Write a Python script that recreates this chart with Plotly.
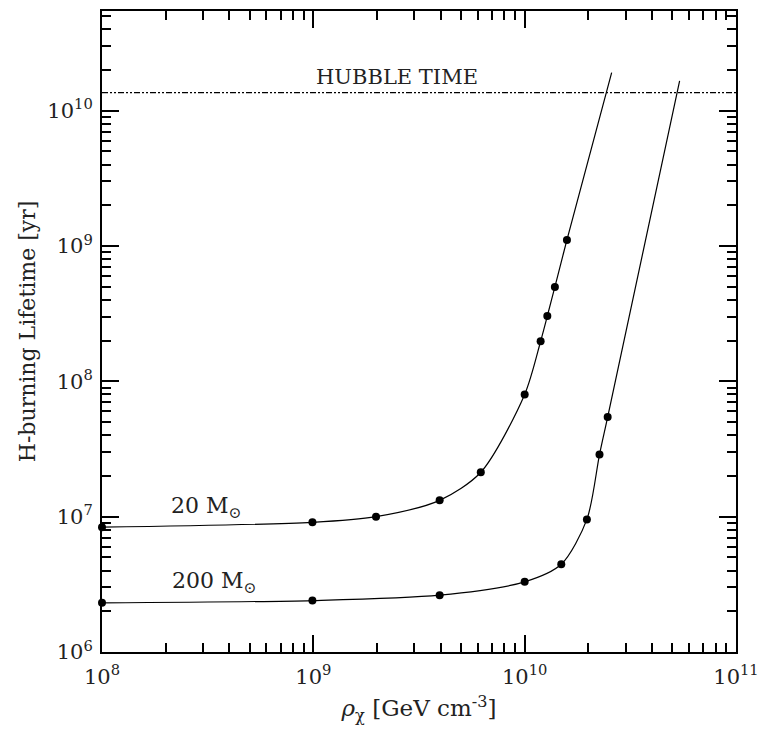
import plotly.graph_objects as go

# Dark-matter density (GeV cm^-3) and H-burning lifetime (yr)
rho_20 = [1e8, 9.9e8, 1.98e9, 3.96e9, 6.2e9, 1.0e10, 1.19e10, 1.28e10, 1.39e10, 1.585e10]
life_20 = [8.37e6, 9.08e6, 1.0e7, 1.32e7, 2.13e7, 8.0e7, 1.98e8, 3.04e8, 4.99e8, 1.11e9]
rho_20_end = 2.58e10
life_20_end = 1.91e10

rho_200 = [1e8, 9.9e8, 3.96e9, 1.0e10, 1.49e10, 1.97e10, 2.26e10, 2.47e10]
life_200 = [2.31e6, 2.40e6, 2.63e6, 3.3e6, 4.45e6, 9.55e6, 2.88e7, 5.45e7]
rho_200_end = 5.41e10
life_200_end = 1.66e10

hubble_time = 1.36e10
x_range = [1e8, 1e11]

major_x = [1e8, 1e9, 1e10, 1e11]
major_y = [1e6, 1e7, 1e8, 1e9, 1e10]
x_tick_text = ["10<sup>8</sup>", "10<sup>9</sup>", "10<sup>10</sup>", "10<sup>11</sup>"]
y_tick_text = ["10<sup>6</sup>", "10<sup>7</sup>", "10<sup>8</sup>", "10<sup>9</sup>", "10<sup>10</sup>"]

FONT = "DejaVu Serif"


def minor_vals(lo_exp, hi_exp):
    return [m * 10 ** e for e in range(lo_exp, hi_exp) for m in range(2, 10)]


fig = go.Figure()

for rho, life, r_end, l_end in [
    (rho_20, life_20, rho_20_end, life_20_end),
    (rho_200, life_200, rho_200_end, life_200_end),
]:
    fig.add_trace(go.Scatter(
        x=rho + [r_end], y=life + [l_end], mode="lines",
        line=dict(color="black", width=1.2, shape="spline", smoothing=0.8),
        hoverinfo="skip", showlegend=False,
    ))
    fig.add_trace(go.Scatter(
        x=rho, y=life, mode="markers",
        marker=dict(color="black", size=8),
        showlegend=False, cliponaxis=False,
    ))

fig.add_trace(go.Scatter(
    x=x_range, y=[hubble_time, hubble_time], mode="lines",
    line=dict(color="black", width=1.2, dash="6px,2px,2px,2px,2px,2px"),
    hoverinfo="skip", showlegend=False,
))

fig.add_annotation(x=9.394, y=10.25, text="HUBBLE TIME", showarrow=False,
                   font=dict(family=FONT, size=21, color="#222"))
fig.add_annotation(x=8.49, y=7.07, text="20 M<sub>⊙</sub>", showarrow=False,
                   font=dict(family=FONT, size=22, color="#222"))
fig.add_annotation(x=8.53, y=6.515, text="200 M<sub>⊙</sub>", showarrow=False,
                   font=dict(family=FONT, size=22, color="#222"))

axis_common = dict(
    showgrid=False, zeroline=False, showline=True, linecolor="black", linewidth=2,
    mirror="ticks", ticks="inside", ticklen=17, tickwidth=1.5, tickcolor="black",
    tickfont=dict(family=FONT, size=21, color="#222"),
)

fig.update_xaxes(
    type="log", range=[8, 11], tickmode="array", tickvals=major_x, ticktext=x_tick_text,
    ticklabelstandoff=5,
    minor=dict(tickmode="array", tickvals=minor_vals(8, 11), ticks="inside",
               ticklen=9, tickwidth=1.5, tickcolor="black"),
    title=dict(text="<i>ρ</i><sub>χ</sub> [GeV cm<sup>-3</sup>]",
               font=dict(family=FONT, size=23, color="#222"), standoff=12),
    **axis_common,
)
fig.update_yaxes(
    type="log", range=[6, 10.737], tickmode="array", tickvals=major_y, ticktext=y_tick_text,
    ticklabelstandoff=3,
    minor=dict(tickmode="array", tickvals=minor_vals(6, 11), ticks="inside",
               ticklen=9, tickwidth=1.5, tickcolor="black"),
    title=dict(text="H-burning Lifetime [yr]",
               font=dict(family=FONT, size=22, color="#222"), standoff=6),
    **axis_common,
)

fig.update_layout(
    width=768, height=733,
    margin=dict(l=102, r=29, t=9, b=81),
    plot_bgcolor="white", paper_bgcolor="white",
)

fig.write_html("out.html")
